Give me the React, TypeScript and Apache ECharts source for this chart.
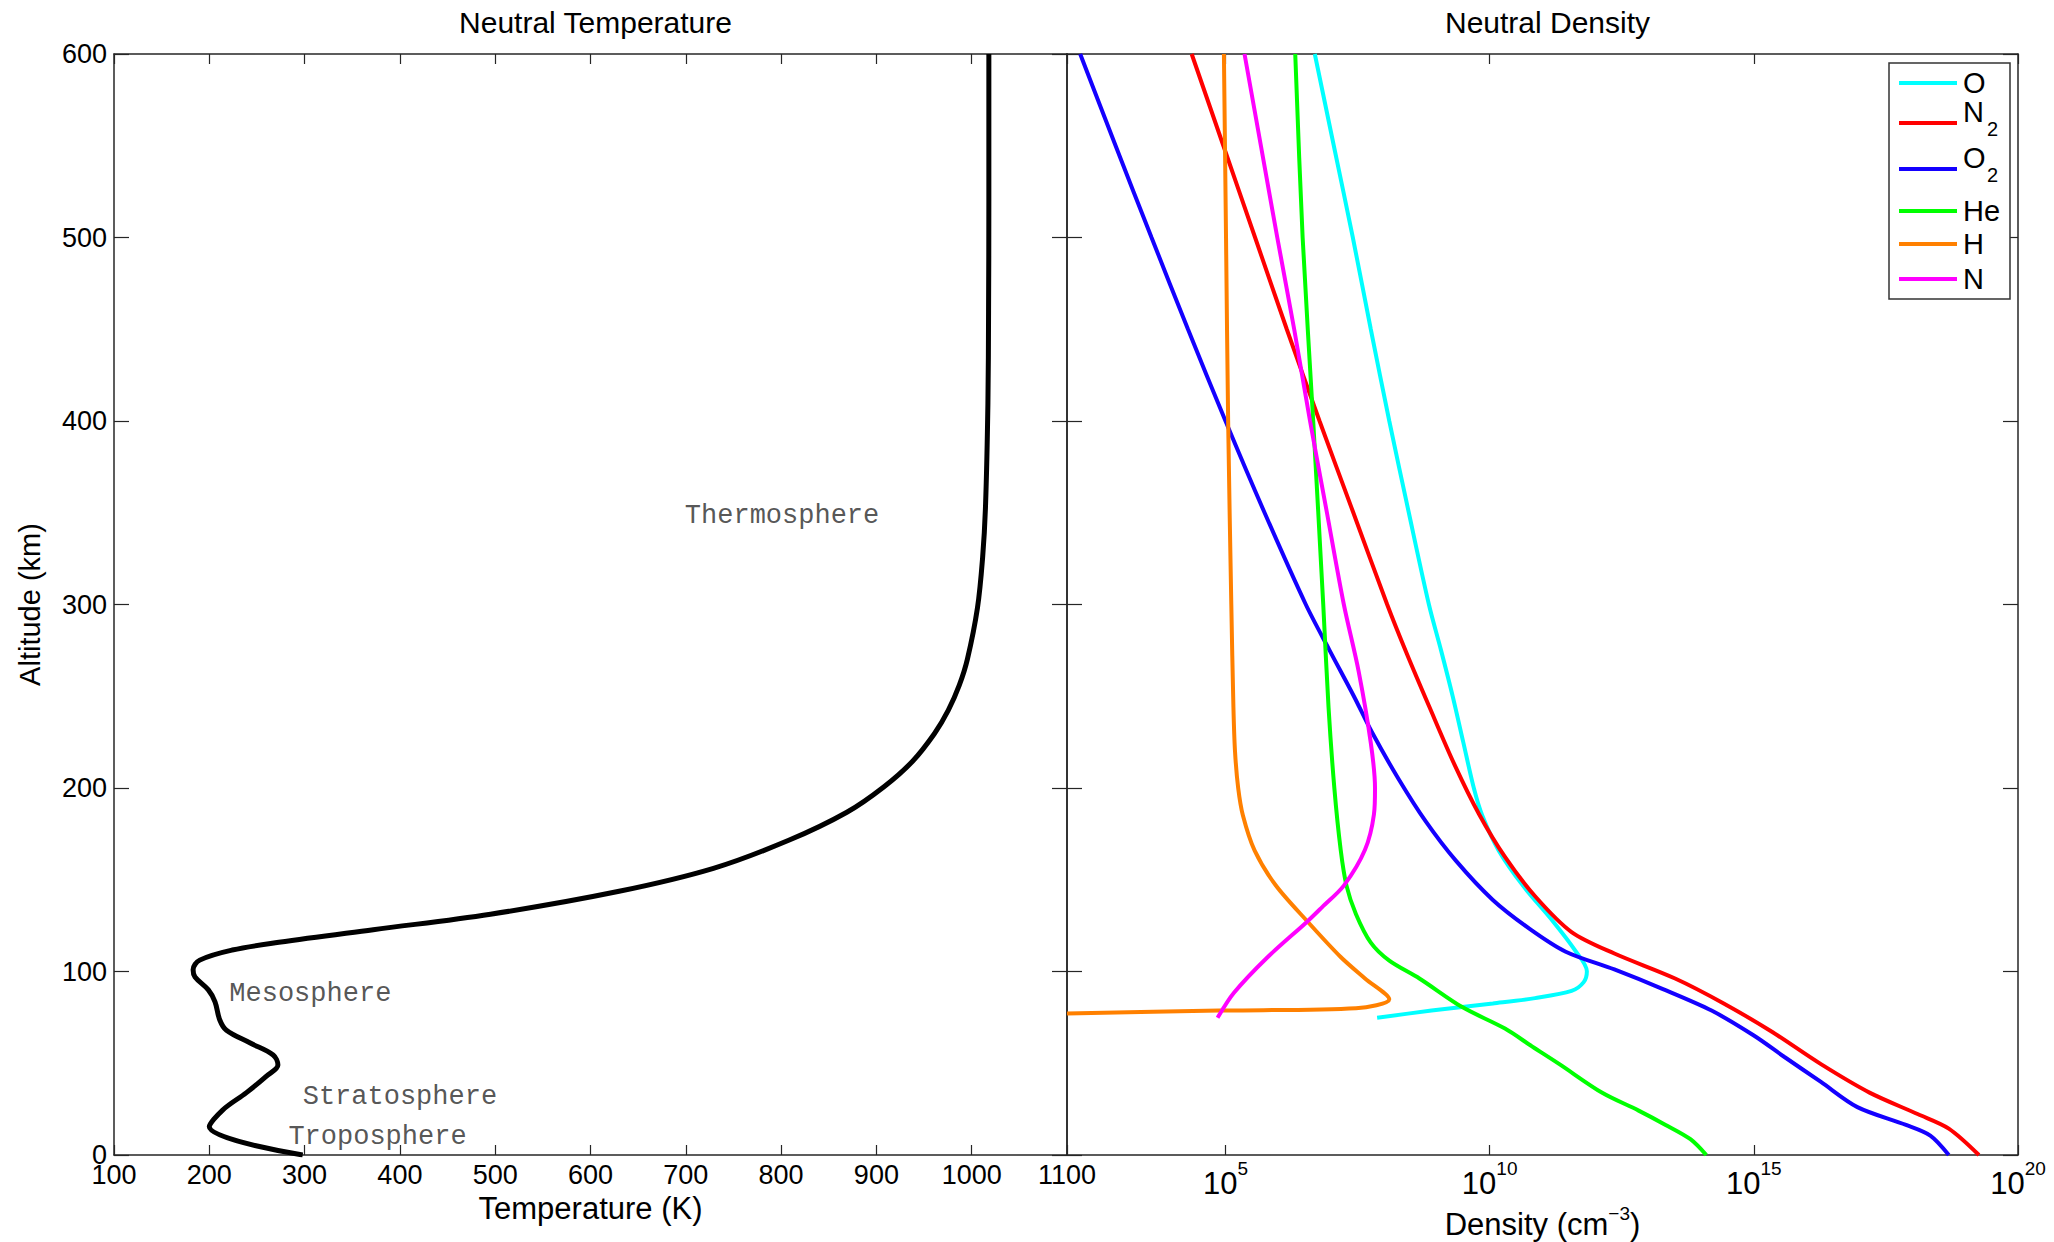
import React, { useEffect, useRef } from 'react';
import * as echarts from 'echarts';

// ---------- data ----------
// Neutral temperature profile: [temperature (K), altitude (km)]
const temperatureProfile: [number, number][] = [
  [298, 0], [200, 15.4], [214, 24.5], [239, 34], [260, 43], [272, 49], [267, 54.5],
  [243, 61], [218, 68], [211, 73.6], [206, 83.5], [199, 90], [185, 97], [183, 101],
  [190, 106.2], [224, 111.7], [273, 115.9], [372, 122.8], [495, 131.2], [630, 143.7],
  [729, 156.2], [808, 171.5], [869, 186.8], [908, 200.7], [938, 214.6], [961, 229.7],
  [975.5, 242.4], [987, 256], [995.5, 270.2], [1006, 298], [1011.5, 325.9], [1014.5, 353.7],
  [1017, 409.3], [1017.7, 460], [1018, 520], [1018, 600],
];

// Atmospheric layer annotations
const layerNames = ['Thermosphere', 'Mesosphere', 'Stratosphere', 'Troposphere'];
const layerLabelTemp = [699, 221, 298, 283];
const layerLabelAlt = [348, 87.5, 31.5, 10];

// Neutral densities: [log10 density (cm^-3), altitude (km)]
const oProfile: [number, number][] = [
  [7.87, 74.8], [8.9, 78.7], [10.06, 82.6], [10.86, 85.5], [11.55, 89.4], [11.78, 94.2],
  [11.84, 100.1], [11.61, 111.8], [11.2, 127.3], [10.63, 146.8], [10.17, 166],
  [9.86, 185], [9.7, 200], [9.5, 225], [9.3, 250], [9.08, 275], [8.85, 300], [8.47, 350],
  [8.1, 400], [7.75, 450], [7.41, 500], [7.05, 550], [6.69, 600],
];
const n2Profile: [number, number][] = [
  [19.26, 0], [18.69, 14.4], [18.11, 22.2], [17.19, 34], [16.27, 49.5], [15.35, 67],
  [14.43, 82.6], [13.51, 96.2], [12.36, 109.8], [11.55, 121.5], [10.86, 141],
  [10.29, 162.4], [9.8, 185.7], [9.33, 213], [8.86, 244.1], [8.43, 273.3], [8.06, 300],
  [7.42, 350], [6.78, 400], [6.16, 450], [5.56, 500], [4.96, 550], [4.36, 600],
];
const o2Profile: [number, number][] = [
  [18.69, 0], [18.34, 10.6], [17.88, 16.4], [16.96, 26.1], [16.27, 39.8], [15.58, 53.4],
  [15.0, 65.1], [14.2, 78.7], [13.28, 90.4], [12.36, 101.1], [11.44, 110.8],
  [10.75, 123.4], [10.06, 139], [9.36, 160.4], [8.79, 181.8], [8.27, 205.2],
  [7.77, 230.5], [7.43, 250], [6.97, 275], [6.52, 300], [5.74, 350], [5.0, 400],
  [4.29, 450], [3.6, 500], [2.92, 550], [2.25, 600],
];
const heProfile: [number, number][] = [
  [14.1, 0], [13.8, 8.6], [13.33, 16.4], [12.82, 24.2], [12.13, 33.9], [11.32, 49.5],
  [10.8, 59.2], [10.29, 68.9], [9.48, 80.6], [8.67, 96.2], [8.1, 105.9], [7.75, 115.7],
  [7.47, 131.2], [7.29, 146.8], [7.18, 166.3], [7.06, 200], [6.95, 244.1], [6.85, 300],
  [6.66, 400], [6.46, 500], [6.32, 600],
];
const hProfile: [number, number][] = [
  [2.0, 77.1], [4.88, 78.7], [7.47, 80.0], [8.1, 84.9], [7.64, 96.2], [7.18, 107.9],
  [6.55, 127.3], [5.95, 147], [5.55, 166], [5.33, 185], [5.24, 200], [5.18, 220],
  [5.15, 244], [5.11, 300], [5.05, 400], [5.01, 500], [4.97, 600],
];
const nProfile: [number, number][] = [
  [4.85, 74.8], [5.16, 88.4], [5.8, 107.9], [6.55, 127.3], [6.83, 135.1], [7.24, 146.8],
  [7.64, 166.3], [7.81, 185.7], [7.83, 200], [7.75, 224.6], [7.52, 263.6], [7.24, 300],
  [6.92, 350], [6.6, 400], [6.3, 450], [5.98, 500], [5.67, 550], [5.36, 600],
];

const speciesNames = ['O', 'N2', 'O2', 'He', 'H', 'N'];
const speciesProfiles = [oProfile, n2Profile, o2Profile, heProfile, hProfile, nProfile];
const speciesColors = ['#00ffff', '#ff0000', '#1400ff', '#00ff00', '#ff8000', '#ff00ff'];

const densityTickExponents = [5, 10, 15, 20];

// ---------- styling / layout ----------
const SANS = '"Liberation Sans", Arial, Helvetica, sans-serif';
const MONO = '"Liberation Mono", "Courier New", monospace';
const AXIS_COLOR = '#262626';

const G1 = { left: 114, top: 54, width: 953, height: 1101 };
const G2 = { left: 1067, top: 54, width: 951, height: 1101 };

const LEGEND_BOX = { x: 1889, y: 63, w: 121, h: 236 };
const LEGEND_ROWS = [83, 123, 169, 211, 244, 279];

function buildLegend() {
  const els: any[] = [
    {
      type: 'rect',
      z: 100,
      shape: { x: LEGEND_BOX.x, y: LEGEND_BOX.y, width: LEGEND_BOX.w, height: LEGEND_BOX.h },
      style: { fill: '#fff', stroke: '#333', lineWidth: 1.5 },
    },
  ];
  speciesNames.forEach((name, i) => {
    const y = LEGEND_ROWS[i];
    const m = name.match(/^([A-Za-z]+)(\d*)$/);
    const main = m ? m[1] : name;
    const sub = m ? m[2] : '';
    els.push({
      type: 'line',
      z: 101,
      shape: { x1: LEGEND_BOX.x + 10, y1: y, x2: LEGEND_BOX.x + 68, y2: y },
      style: { stroke: speciesColors[i], lineWidth: 4 },
    });
    els.push({
      type: 'text',
      z: 101,
      x: LEGEND_BOX.x + 74,
      y: sub ? y - 11 : y,
      style: {
        text: main,
        font: `29px ${SANS}`,
        fill: '#000',
        verticalAlign: 'middle',
        align: 'left',
      },
    });
    if (sub) {
      els.push({
        type: 'text',
        z: 101,
        x: LEGEND_BOX.x + 98,
        y: y + 6,
        style: {
          text: sub,
          font: `20px ${SANS}`,
          fill: '#000',
          verticalAlign: 'middle',
          align: 'left',
        },
      });
    }
  });
  return els;
}

function buildOption(): any {
  const axisLine = { show: true, onZero: false, lineStyle: { color: AXIS_COLOR, width: 1.5 } };
  const tickStyle = { color: AXIS_COLOR, width: 1.2 };
  const labelStyle = { fontSize: 27, fontFamily: SANS, color: '#000' };
  const plain = (v: number) => String(v);

  return {
    animation: false,
    backgroundColor: '#fff',
    title: [
      {
        text: 'Neutral Temperature',
        left: G1.left + G1.width / 2,
        top: 2,
        textAlign: 'center',
        textStyle: { fontSize: 30, fontWeight: 'normal', fontFamily: SANS, color: '#000' },
      },
      {
        text: 'Neutral Density',
        left: G2.left + G2.width / 2,
        top: 2,
        textAlign: 'center',
        textStyle: { fontSize: 30, fontWeight: 'normal', fontFamily: SANS, color: '#000' },
      },
    ],
    grid: [
      { ...G1, containLabel: false, outerBoundsMode: 'none' },
      { ...G2, containLabel: false, outerBoundsMode: 'none' },
    ],
    xAxis: [
      {
        type: 'value',
        gridIndex: 0,
        position: 'bottom',
        min: 100,
        max: 1100,
        interval: 100,
        axisLine,
        splitLine: { show: false },
        axisTick: { inside: true, length: 10, lineStyle: tickStyle },
        axisLabel: { ...labelStyle, margin: 6, showMinLabel: true, showMaxLabel: true, formatter: plain },
        name: 'Temperature (K)',
        nameLocation: 'middle',
        nameGap: 34,
        nameTextStyle: { fontSize: 31, fontFamily: SANS, color: '#000', lineHeight: 32 },
      },
      {
        type: 'value',
        gridIndex: 0,
        position: 'top',
        min: 100,
        max: 1100,
        interval: 100,
        axisLine,
        splitLine: { show: false },
        axisTick: { inside: true, length: 10, lineStyle: tickStyle },
        axisLabel: { show: false },
      },
      {
        type: 'value',
        gridIndex: 1,
        position: 'bottom',
        min: 2,
        max: 20,
        axisLine,
        splitLine: { show: false },
        axisTick: { inside: true, length: 10, lineStyle: tickStyle, customValues: densityTickExponents },
        axisLabel: {
          customValues: densityTickExponents,
          margin: 4,
          formatter: (v: number) => `{b|10}{s|${v}}`,
          rich: {
            b: { fontSize: 31, fontFamily: SANS, color: '#000', lineHeight: 40, verticalAlign: 'bottom' },
            s: { fontSize: 19, fontFamily: SANS, color: '#000', lineHeight: 14, verticalAlign: 'top' },
          },
        },
        name: '{n|Density (cm}{s|\u22123}{n|)}',
        nameLocation: 'middle',
        nameGap: 42,
        nameTextStyle: {
          rich: {
            n: { fontSize: 31, fontFamily: SANS, color: '#000', lineHeight: 36, verticalAlign: 'bottom' },
            s: { fontSize: 19, fontFamily: SANS, color: '#000', lineHeight: 14, verticalAlign: 'top' },
          },
        },
      },
      {
        type: 'value',
        gridIndex: 1,
        position: 'top',
        min: 2,
        max: 20,
        axisLine,
        splitLine: { show: false },
        axisTick: { inside: true, length: 10, lineStyle: tickStyle, customValues: densityTickExponents },
        axisLabel: { show: false },
      },
    ],
    yAxis: [
      {
        type: 'value',
        gridIndex: 0,
        position: 'left',
        min: 0,
        max: 600,
        interval: 100,
        axisLine,
        splitLine: { show: false },
        axisTick: { inside: true, length: 15, lineStyle: tickStyle },
        axisLabel: { ...labelStyle, margin: 7, showMinLabel: true, showMaxLabel: true, formatter: plain },
        name: 'Altitude (km)',
        nameLocation: 'middle',
        nameRotate: 90,
        nameGap: 70,
        nameTextStyle: { fontSize: 29, fontFamily: SANS, color: '#000' },
      },
      {
        type: 'value',
        gridIndex: 0,
        position: 'right',
        min: 0,
        max: 600,
        interval: 100,
        axisLine,
        splitLine: { show: false },
        axisTick: { inside: true, length: 15, lineStyle: tickStyle },
        axisLabel: { show: false },
      },
      {
        type: 'value',
        gridIndex: 1,
        position: 'left',
        min: 0,
        max: 600,
        interval: 100,
        axisLine,
        splitLine: { show: false },
        axisTick: { inside: true, length: 15, lineStyle: tickStyle },
        axisLabel: { show: false },
      },
      {
        type: 'value',
        gridIndex: 1,
        position: 'right',
        min: 0,
        max: 600,
        interval: 100,
        axisLine,
        splitLine: { show: false },
        axisTick: { inside: true, length: 15, lineStyle: tickStyle },
        axisLabel: { show: false },
      },
    ],
    series: [
      {
        type: 'line',
        name: 'Temperature',
        xAxisIndex: 0,
        yAxisIndex: 0,
        data: temperatureProfile,
        symbol: 'none',
        showSymbol: false,
        smooth: 0.35,
        lineStyle: { color: '#000', width: 5 },
        z: 3,
      },
      {
        type: 'scatter',
        name: 'Layers',
        xAxisIndex: 0,
        yAxisIndex: 0,
        symbolSize: 0,
        silent: true,
        data: layerNames.map((n, i) => ({ name: n, value: [layerLabelTemp[i], layerLabelAlt[i]] })),
        label: {
          show: true,
          position: 'right',
          distance: 0,
          formatter: '{b}',
          fontFamily: MONO,
          fontSize: 27,
          color: '#2a2a2a',
        },
        z: 4,
      },
      ...speciesNames.map((name, i) => ({
        type: 'line',
        name,
        xAxisIndex: 2,
        yAxisIndex: 2,
        data: speciesProfiles[i],
        symbol: 'none',
        showSymbol: false,
        smooth: 0.3,
        lineStyle: { color: speciesColors[i], width: 4 },
        z: 3 + i * 0.01,
      })),
    ],
    graphic: buildLegend(),
  };
}

export default function App() {
  const ref = useRef<HTMLDivElement>(null);
  useEffect(() => {
    if (!ref.current) return;
    const chart = echarts.init(ref.current, null, { renderer: 'svg' });
    chart.setOption(buildOption());
    return () => {
      chart.dispose();
    };
  }, []);
  return (
    <div
      ref={ref}
      style={{ position: 'absolute', left: 0, top: 0, width: 2054, height: 1242, background: '#fff' }}
    />
  );
}
